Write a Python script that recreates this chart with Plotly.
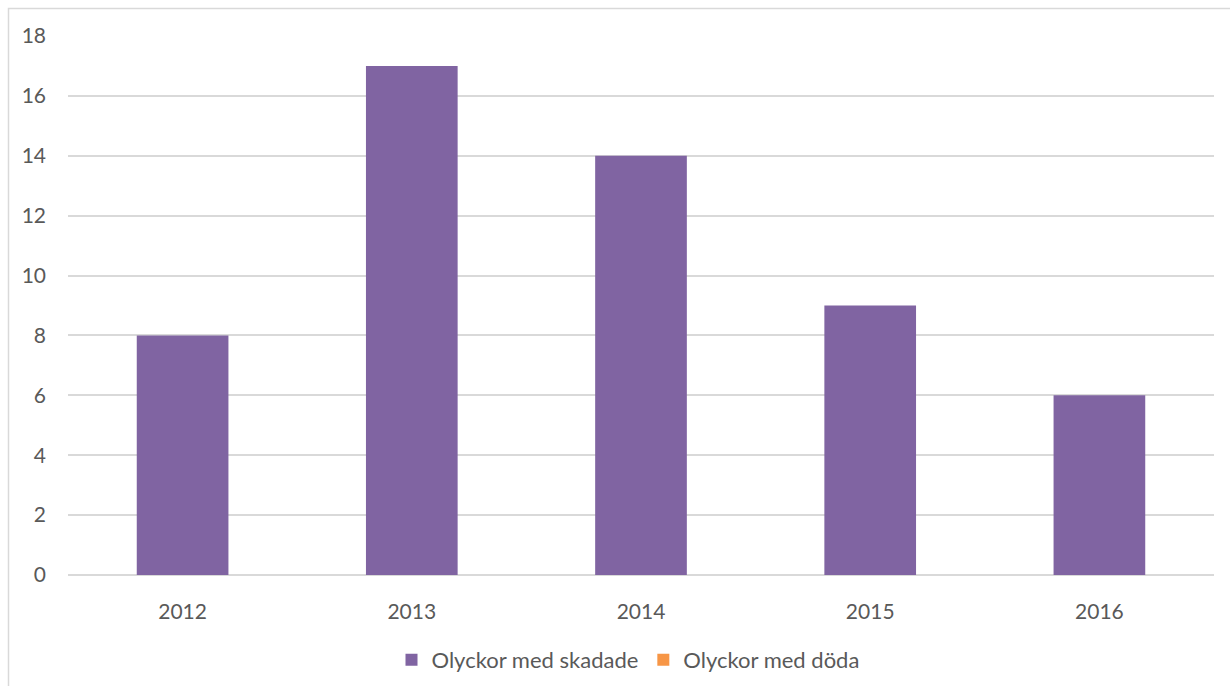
import plotly.graph_objects as go

years = ["2012", "2013", "2014", "2015", "2016"]
skadade = [8, 17, 14, 9, 6]
doda = [0, 0, 0, 0, 0]

W, H = 1230, 686
L, R, T, B = 68, 16, 36, 111

def px_x(p):
    return (p - L) / (W - L - R)

def px_y(p):
    return (H - B - p) / (H - T - B)

fig = go.Figure()
fig.add_trace(go.Bar(x=years, y=skadade, name="Olyckor med skadade",
                     marker=dict(color="#8064A2", line=dict(width=0)), width=0.4))
fig.add_trace(go.Bar(x=years, y=doda, name="Olyckor med döda",
                     marker=dict(color="#F79646", line=dict(width=0)), width=0.4))

fig.update_layout(
    width=W, height=H,
    margin=dict(l=L, r=R, t=T, b=B, autoexpand=False),
    barmode="overlay",
    plot_bgcolor="white", paper_bgcolor="white",
    font=dict(family="Lato", size=21, color="#595959"),
    xaxis=dict(showgrid=False, showline=False, ticks="", ticklabelstandoff=22,
               automargin=False, tickfont=dict(size=21, color="#595959")),
    yaxis=dict(range=[0, 18], dtick=2, showgrid=True, gridcolor="#d9d9d9", gridwidth=1.5,
               zeroline=True, zerolinecolor="#d9d9d9", zerolinewidth=2,
               showline=False, ticks="", ticklabelstandoff=21, automargin=False,
               tickfont=dict(size=21, color="#595959")),
    legend=dict(orientation="h", x=px_x(628), xanchor="center", y=px_y(660), yanchor="middle",
                font=dict(size=22, color="#595959"), itemwidth=30,
                traceorder="normal"),
    shapes=[dict(type="rect", xref="paper", yref="paper",
                 x0=px_x(8.5), x1=px_x(1260), y0=px_y(720), y1=px_y(8.5),
                 line=dict(color="#d9d9d9", width=1.5), fillcolor="rgba(0,0,0,0)", layer="below")],
)

fig.write_html("out.html")
